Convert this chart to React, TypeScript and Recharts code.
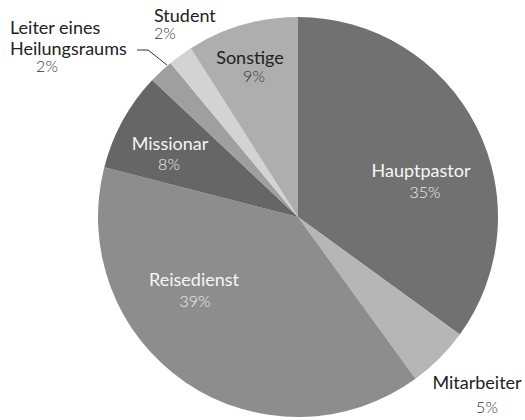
import { PieChart, Pie, Cell } from 'recharts';

const categories = [
  'Hauptpastor',
  'Mitarbeiter',
  'Reisedienst',
  'Missionar',
  'Leiter eines Heilungsraums',
  'Student',
  'Sonstige',
];
const shares = [35, 5, 39, 8, 2, 2, 9];
const colors = ['#717171', '#b6b6b6', '#8d8d8d', '#666666', '#9f9f9f', '#d3d3d3', '#aeaeae'];

const data = categories.map((name, i) => ({ name, value: shares[i] }));

// label placement relative to pie centre
const labelLayout = [
  { dx: 123, dy: -47, anchor: 'middle', inside: true, lines: ['Hauptpastor'], pctDx: 4, pctDy: 21, pctAnchor: 'middle' },
  { dx: 179, dy: 165, anchor: 'middle', inside: false, lines: ['Mitarbeiter'], pctDx: 10, pctDy: 24, pctAnchor: 'middle' },
  { dx: -104, dy: 62, anchor: 'middle', inside: true, lines: ['Reisedienst'], pctDx: 1, pctDy: 21, pctAnchor: 'middle' },
  { dx: -128, dy: -74, anchor: 'middle', inside: true, lines: ['Missionar'], pctDx: -1, pctDy: 20, pctAnchor: 'middle' },
  { dx: -288, dy: -190, anchor: 'start', inside: false, lines: ['Leiter eines', 'Heilungsraums'], pctDx: 37, pctDy: 38, pctAnchor: 'middle' },
  { dx: -144, dy: -202, anchor: 'start', inside: false, lines: ['Student'], pctDx: 0, pctDy: 17, pctAnchor: 'start' },
  { dx: -48, dy: -160, anchor: 'middle', inside: false, lines: ['Sonstige'], pctDx: 4, pctDy: 18, pctAnchor: 'middle' },
];

const font = 'Lato, "Open Sans", sans-serif';

function renderLabel(props: any) {
  const { cx, cy, index, value } = props;
  const l = labelLayout[index];
  const x = cx + l.dx;
  const y = cy + l.dy;
  const nameFill = l.inside ? '#f6f6f6' : '#222222';
  const pctFill = l.inside ? '#eeeeee' : '#333333';
  return (
    <g key={`lbl-${index}`}>
      {l.lines.map((t, j) => (
        <text
          key={j}
          x={x}
          y={y + j * 21}
          textAnchor={l.anchor as any}
          dominantBaseline="central"
          fill={nameFill}
          fontFamily={font}
          fontSize={18}
        >
          {t}
        </text>
      ))}
      <text
        x={x + l.pctDx}
        y={y + l.pctDy}
        textAnchor={l.pctAnchor as any}
        dominantBaseline="central"
        fill={pctFill}
        fontFamily={font}
        fontSize={16}
        fontWeight={300}
      >
        {`${value}%`}
      </text>
      {index === 4 && (
        <polyline
          points={`${cx - 161},${cy - 167} ${cx - 150},${cy - 167} ${cx - 131},${cy - 152}`}
          fill="none"
          stroke="#333"
          strokeWidth={1}
        />
      )}
    </g>
  );
}

export default function App() {
  return (
    <div style={{ position: 'absolute', left: 0, top: 0, background: '#fff' }}>
      <PieChart width={525} height={420} margin={{ top: 0, right: 0, bottom: 0, left: 0 }}>
        <Pie
          data={data}
          dataKey="value"
          nameKey="name"
          cx={298}
          cy={217}
          outerRadius={200}
          startAngle={90}
          endAngle={-270}
          stroke="none"
          label={renderLabel}
          labelLine={false}
          isAnimationActive={false}
        >
          {data.map((d, i) => (
            <Cell key={d.name} fill={colors[i]} />
          ))}
        </Pie>
      </PieChart>
    </div>
  );
}
